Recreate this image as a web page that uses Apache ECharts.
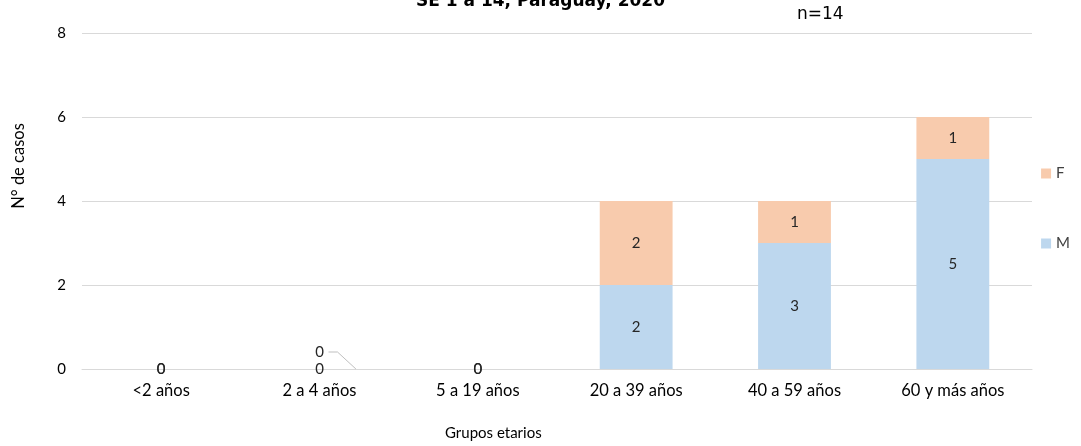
<!DOCTYPE html>
<html>
<head>
<meta charset="utf-8">
<script src="https://cdn.jsdelivr.net/npm/echarts@6/dist/echarts.min.js"></script>
<style>
html,body{margin:0;padding:0;background:#fff;}
#chart{width:1081px;height:446px;}
</style>
</head>
<body>
<div id="chart"></div>
<script>
// Casos por grupo etario y sexo
const categories = ['<2 años', '2 a 4 años', '5 a 19 años', '20 a 39 años', '40 a 59 años', '60 y más años'];
const casosM = [0, 0, 0, 2, 3, 5];
const casosF = [0, 0, 0, 2, 1, 1];
const yTicks = [0, 2, 4, 6, 8];
// the F label of this group is lifted and tied back to its bar
const liftedIndex = 1;

const font = 'Lato, "Liberation Sans", sans-serif';
const barWidthRatio = 0.46;
const liftPx = 17;
const chart = echarts.init(document.getElementById('chart'));

const dataF = casosF.map((v, i) => i === liftedIndex
  ? { value: v, label: { offset: [0, -liftPx] } }
  : v);

chart.setOption({
  animation: false,
  grid: { left: 82, right: 49, top: 33, bottom: 77, containLabel: false },
  graphic: [
    { type: 'text', left: 'center', top: -7, style: { text: 'SE 1 a 14, Paraguay, 2020', font: 'bold 17px "DejaVu Sans", sans-serif', fill: '#000' } },
    { type: 'text', left: 797, top: 6, style: { text: 'n=14', font: '17px "DejaVu Sans", sans-serif', fill: '#000' } },
    { type: 'text', left: 445, top: 426, style: { text: 'Grupos etarios', font: '15px ' + font, fill: '#000' } },
    {
      type: 'text', x: 19, y: 166, rotation: Math.PI / 2,
      style: { text: 'N° de casos', font: '16.5px ' + font, fill: '#000', align: 'center', verticalAlign: 'middle' }
    }
  ],
  legend: {
    orient: 'vertical',
    right: 6,
    top: 161,
    itemGap: 55,
    itemWidth: 10,
    itemHeight: 10,
    icon: 'rect',
    textStyle: { fontFamily: font, fontSize: 15, color: '#404040' },
    data: ['F', 'M']
  },
  xAxis: {
    type: 'category',
    data: categories,
    axisLine: { lineStyle: { color: '#d9d9d9' } },
    axisTick: { show: false },
    axisLabel: { color: '#000', fontFamily: font, fontSize: 16.5, margin: 13 }
  },
  yAxis: {
    type: 'value',
    min: yTicks[0],
    max: yTicks[yTicks.length - 1],
    interval: 2,
    axisLine: { show: false },
    axisTick: { show: false },
    axisLabel: { color: '#000', fontFamily: font, fontSize: 15, margin: 16 },
    splitLine: { lineStyle: { color: '#d9d9d9' } }
  },
  series: [
    {
      name: 'M',
      type: 'bar',
      stack: 'casos',
      barWidth: (barWidthRatio * 100) + '%',
      data: casosM,
      itemStyle: { color: '#BDD7EE' },
      label: { show: true, position: 'inside', color: '#262626', fontFamily: font, fontSize: 15 }
    },
    {
      name: 'F',
      type: 'bar',
      stack: 'casos',
      barWidth: (barWidthRatio * 100) + '%',
      data: dataF,
      itemStyle: { color: '#F8CBAD' },
      label: { show: true, position: 'inside', color: '#262626', fontFamily: font, fontSize: 15 }
    },
    {
      // leader line from the lifted label down to the bar's base corner
      name: 'guía',
      type: 'custom',
      silent: true,
      data: [[liftedIndex, casosM[liftedIndex] + casosF[liftedIndex]]],
      renderItem: function (params, api) {
        const base = api.coord([api.value(0), api.value(1)]);
        const band = api.size([1, 0])[0];
        const half = band * barWidthRatio / 2;
        const ly = base[1] - liftPx;
        const lx = base[0] + 9;
        return {
          type: 'polyline',
          shape: { points: [[lx, ly], [lx + 9, ly], [base[0] + half, base[1]]] },
          style: { stroke: '#bfbfbf', lineWidth: 1, fill: null }
        };
      }
    }
  ]
});
</script>
</body>
</html>
